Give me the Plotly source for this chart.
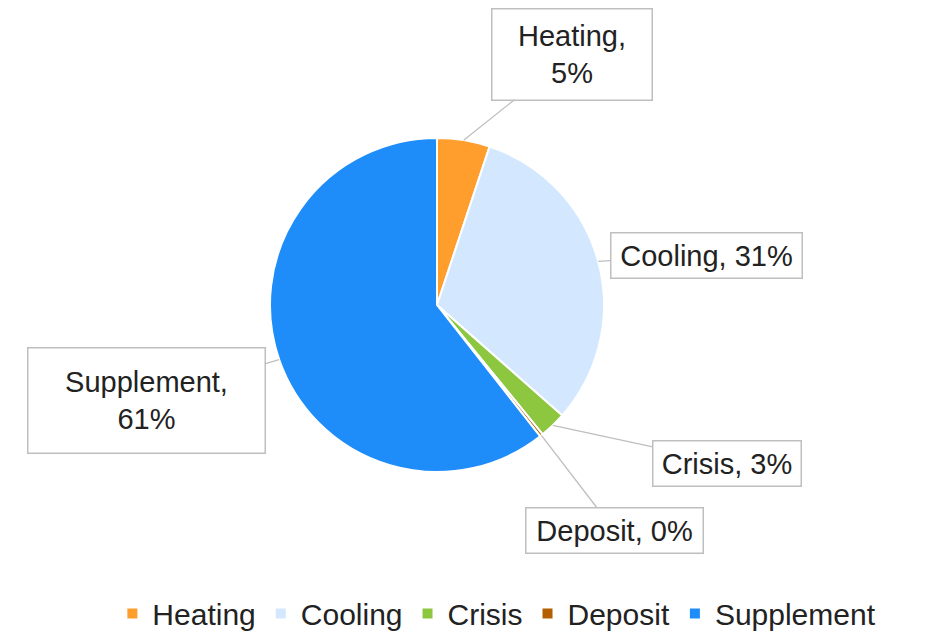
import math
import plotly.graph_objects as go

# ---- data ----
categories = ["Heating", "Cooling", "Crisis", "Deposit", "Supplement"]
values = [5.1, 31.4, 2.6, 0.3, 60.6]
label_texts = ["Heating,<br>5%", "Cooling, 31%", "Crisis, 3%", "Deposit, 0%", "Supplement,<br>61%"]

# ---- style / layout ----
colors = ["#FF9E2C", "#D3E8FF", "#8DC63F", "#B35F00", "#1E8CF9"]
W, H = 927, 632
dom_x = [270 / W, 604 / W]
dom_y = [1 - 472 / H, 1 - 138 / H]
# callout box centers (pixels) and sizes
box_centers = [(572, 54), (706, 255), (727, 463), (614, 530), (146, 400)]
box_sizes = [(161, 92), (192, 46), (149, 46), (178, 46), (238, 106)]
FONT = "Liberation Sans, Arial, sans-serif"
TEXT_COLOR = "#222222"

fig = go.Figure(go.Pie(
    labels=categories,
    values=values,
    sort=False,
    direction="clockwise",
    rotation=0,
    textinfo="none",
    marker=dict(colors=colors, line=dict(color="white", width=2)),
    domain=dict(x=dom_x, y=dom_y),
))

# geometry of pie for leader-line tips (derived from the data)
cx_px = (dom_x[0] + dom_x[1]) / 2 * W
cy_px = (1 - (dom_y[0] + dom_y[1]) / 2) * H
r_px = min((dom_x[1] - dom_x[0]) * W, (dom_y[1] - dom_y[0]) * H) / 2
total = sum(values)
cum = 0.0
annotations = []
for i, v in enumerate(values):
    mid = (cum + v / 2) / total * 2 * math.pi
    cum += v
    tx = cx_px + r_px * math.sin(mid)
    ty = cy_px - r_px * math.cos(mid)
    bx, by = box_centers[i]
    bw, bh = box_sizes[i]
    annotations.append(dict(
        x=tx / W, y=1 - ty / H, xref="paper", yref="paper",
        text=label_texts[i],
        showarrow=True, arrowhead=0, arrowwidth=1.3, arrowcolor="#BFBFBF",
        ax=bx - tx, ay=by - ty, axref="pixel", ayref="pixel",
        width=bw - 4, height=bh - 4, borderpad=1,
        bgcolor="white", bordercolor="#BFBFBF", borderwidth=1.5,
        font=dict(family=FONT, size=29, color=TEXT_COLOR),
        align="center", valign="middle", standoff=0,
    ))

fig.update_layout(
    width=W, height=H,
    margin=dict(l=0, r=0, t=0, b=0, autoexpand=False),
    paper_bgcolor="white",
    plot_bgcolor="white",
    annotations=annotations,
    showlegend=True,
    legend=dict(
        orientation="h", x=0.536, xanchor="center", y=-0.012, yanchor="bottom",
        font=dict(family=FONT, size=30, color=TEXT_COLOR),
        traceorder="normal",
    ),
)

fig.write_html("out.html", config={"displayModeBar": False},
               post_script="document.body.style.margin='0';")
